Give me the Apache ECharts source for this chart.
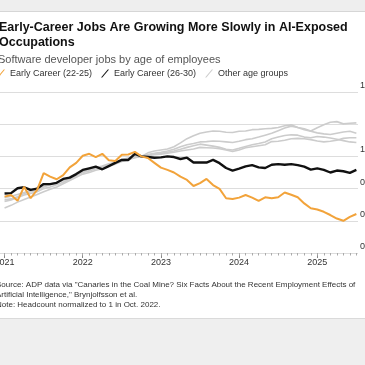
<!DOCTYPE html>
<html>
<head>
<meta charset="utf-8">
<script src="https://cdn.jsdelivr.net/npm/echarts@6/dist/echarts.min.js"></script>
<style>
html,body{margin:0;padding:0;background:#fff;}
#c{width:365px;height:365px;}
</style>
</head>
<body>
<div id="c"></div>
<script>
// ---- data (monthly, Jan 2021 .. Jul 2025; index 0 = Jan 2021) ----
const startYear = 2021;
const yearLabels = ['2021', '2022', '2023', '2024', '2025'];
const yTickLabels = ['0.7', '0.8', '0.9', '1.0', '', '1.2'];

const early2225 = [0.875,0.88,0.862,0.906,0.87,0.896,0.948,0.937,0.929,0.942,0.966,0.98,1.002,1.008,0.998,1.008,0.988,0.986,1.005,1.006,1.014,1.0,0.995,0.98,0.965,0.958,0.95,0.937,0.927,0.908,0.917,0.93,0.911,0.899,0.87,0.868,0.872,0.88,0.872,0.862,0.873,0.87,0.873,0.888,0.881,0.873,0.854,0.839,0.835,0.828,0.818,0.807,0.80,0.812,0.821];
const early2630 = [0.885,0.886,0.901,0.904,0.896,0.90,0.914,0.914,0.918,0.93,0.934,0.945,0.958,0.963,0.968,0.96,0.97,0.98,0.989,0.989,1.008,1.0,0.998,0.996,0.997,1.0,0.998,0.992,0.996,0.981,0.981,0.981,0.989,0.979,0.964,0.956,0.962,0.969,0.973,0.966,0.964,0.974,0.976,0.974,0.976,0.973,0.968,0.959,0.963,0.958,0.95,0.956,0.954,0.949,0.958];
const otherA = [0.86,0.865,0.872,0.88,0.885,0.89,0.9,0.905,0.912,0.92,0.93,0.94,0.95,0.955,0.962,0.967,0.975,0.98,0.988,0.993,0.997,1.0,1.011,1.017,1.02,1.023,1.03,1.042,1.055,1.064,1.072,1.076,1.079,1.078,1.075,1.074,1.078,1.079,1.083,1.084,1.086,1.087,1.09,1.095,1.098,1.09,1.086,1.079,1.089,1.098,1.106,1.108,1.101,1.103,1.104];
const otherB = [0.84,0.848,0.858,0.866,0.874,0.882,0.89,0.898,0.905,0.915,0.925,0.935,0.945,0.95,0.957,0.962,0.97,0.976,0.984,0.99,0.996,1.0,1.006,1.01,1.013,1.017,1.022,1.03,1.036,1.04,1.045,1.046,1.048,1.047,1.045,1.043,1.047,1.052,1.055,1.06,1.066,1.072,1.08,1.088,1.094,1.09,1.083,1.078,1.073,1.07,1.068,1.072,1.076,1.078,1.072];
const otherC = [0.865,0.868,0.875,0.885,0.89,0.895,0.905,0.912,0.918,0.925,0.932,0.942,0.952,0.958,0.963,0.968,0.975,0.98,0.988,0.993,0.998,1.0,1.004,1.008,1.01,1.013,1.017,1.022,1.028,1.033,1.038,1.035,1.032,1.028,1.022,1.02,1.025,1.031,1.036,1.04,1.045,1.055,1.06,1.065,1.067,1.066,1.06,1.058,1.062,1.06,1.057,1.053,1.049,1.045,1.043];
const otherD = [0.872,0.876,0.882,0.888,0.893,0.9,0.908,0.914,0.92,0.928,0.935,0.945,0.954,0.96,0.965,0.97,0.977,0.982,0.99,0.995,1.0,1.0,1.002,1.005,1.007,1.01,1.013,1.017,1.02,1.023,1.028,1.027,1.026,1.024,1.02,1.015,1.02,1.027,1.03,1.033,1.036,1.046,1.047,1.05,1.055,1.056,1.055,1.052,1.048,1.045,1.047,1.05,1.056,1.058,1.058];

const titleText = 'Early-Career Jobs Are Growing More Slowly in AI-Exposed\nOccupations';
const subtitleText = 'Software developer jobs by age of employees';
const footText = 'Source: ADP data via "Canaries in the Coal Mine? Six Facts About the Recent Employment Effects of\nArtificial Intelligence," Brynjolfsson et al.\nNote: Headcount normalized to 1 in Oct. 2022.';
const nameOrange = 'Early Career (22-25)';
const nameBlack = 'Early Career (26-30)';
const nameGray = 'Other age groups';

// ---- build ----
const toPts = arr => arr.map((v, i) => [i, v]);
const monthIdx = early2225.map((_, i) => i);
const yearIdx = yearLabels.map((_, k) => k * 12);
const xMin = -0.7, xMax = 54.25;

const grayStyle = {type:'line', name:nameGray, color:'#cccccc', showSymbol:false, silent:true,
  lineStyle:{width:1.6, color:'#cccccc'}, z:2};

const chart = echarts.init(document.getElementById('c'), null, {renderer:'canvas'});
chart.setOption({
  animation:false,
  backgroundColor:'#ffffff',
  textStyle:{fontFamily:'Liberation Sans, Arial, sans-serif'},
  title:[
    {text:titleText, left:-1, top:20, padding:0,
     textStyle:{fontSize:12.5, fontWeight:'bold', color:'#111', lineHeight:15}},
    {text:subtitleText, left:-2, top:53, padding:0,
     textStyle:{fontSize:11, fontWeight:'normal', color:'#555', lineHeight:13}},
    {text:footText, left:-4, top:280, padding:0,
     textStyle:{fontSize:8, fontWeight:'normal', color:'#333', lineHeight:9.8}}
  ],
  legend:{
    left:-3, top:69, padding:0, itemWidth:8, itemHeight:8, itemGap:9,
    icon:'path://M0,10L1.6,10L10,0L8.4,0Z',
    textStyle:{fontSize:9, color:'#333'},
    data:[nameOrange, nameBlack, nameGray]
  },
  graphic:[
    {type:'rect', shape:{x:0, y:0, width:365, height:11}, style:{fill:'#eeeeee'}, z:-1},
    {type:'line', shape:{x1:0, y1:11.5, x2:365, y2:11.5}, style:{stroke:'#d6d6d6', lineWidth:1}, z:-1},
    {type:'rect', shape:{x:0, y:318, width:365, height:47}, style:{fill:'#efefef'}, z:-1},
    {type:'line', shape:{x1:0, y1:318.5, x2:365, y2:318.5}, style:{stroke:'#dadada', lineWidth:1}, z:-1}
  ],
  grid:{left:0, right:7, top:92, bottom:112, containLabel:false, outerBoundsMode:'none'},
  xAxis:[
    {type:'value', min:xMin, max:xMax, position:'bottom',
     axisLine:{show:false}, splitLine:{show:false},
     axisTick:{show:true, customValues:yearIdx, length:5, lineStyle:{color:'#888', width:1}},
     axisLabel:{customValues:yearIdx, margin:5, fontSize:9, color:'#333',
       formatter: v => yearLabels[Math.round(v / 12)] || ''}},
    {type:'value', min:xMin, max:xMax, position:'bottom',
     axisLine:{show:false}, splitLine:{show:false},
     axisTick:{show:true, customValues:monthIdx, length:2.5, lineStyle:{color:'#aaa', width:1}},
     axisLabel:{show:false}}
  ],
  yAxis:{type:'value', position:'right', min:0.7, max:1.2, interval:0.1,
    axisLine:{show:false}, axisTick:{show:false},
    splitLine:{show:true, lineStyle:{color:'#dddddd', width:1}},
    axisLabel:{margin:2, fontSize:9, color:'#333', verticalAlign:'bottom', padding:[0,0,2,0],
      formatter: v => yTickLabels[Math.round((v - 0.7) * 10)] ?? ''}},
  series:[
    Object.assign({}, grayStyle, {data:toPts(otherA)}),
    Object.assign({}, grayStyle, {data:toPts(otherB)}),
    Object.assign({}, grayStyle, {data:toPts(otherC)}),
    Object.assign({}, grayStyle, {data:toPts(otherD)}),
    {type:'line', name:nameBlack, color:'#111111', showSymbol:false, silent:true,
     lineStyle:{width:2.4, color:'#111111'}, z:3, data:toPts(early2630)},
    {type:'line', name:nameOrange, color:'#f2a33a', showSymbol:false, silent:true,
     lineStyle:{width:2, color:'#f2a33a'}, z:4, data:toPts(early2225)}
  ]
});
</script>
</body>
</html>
